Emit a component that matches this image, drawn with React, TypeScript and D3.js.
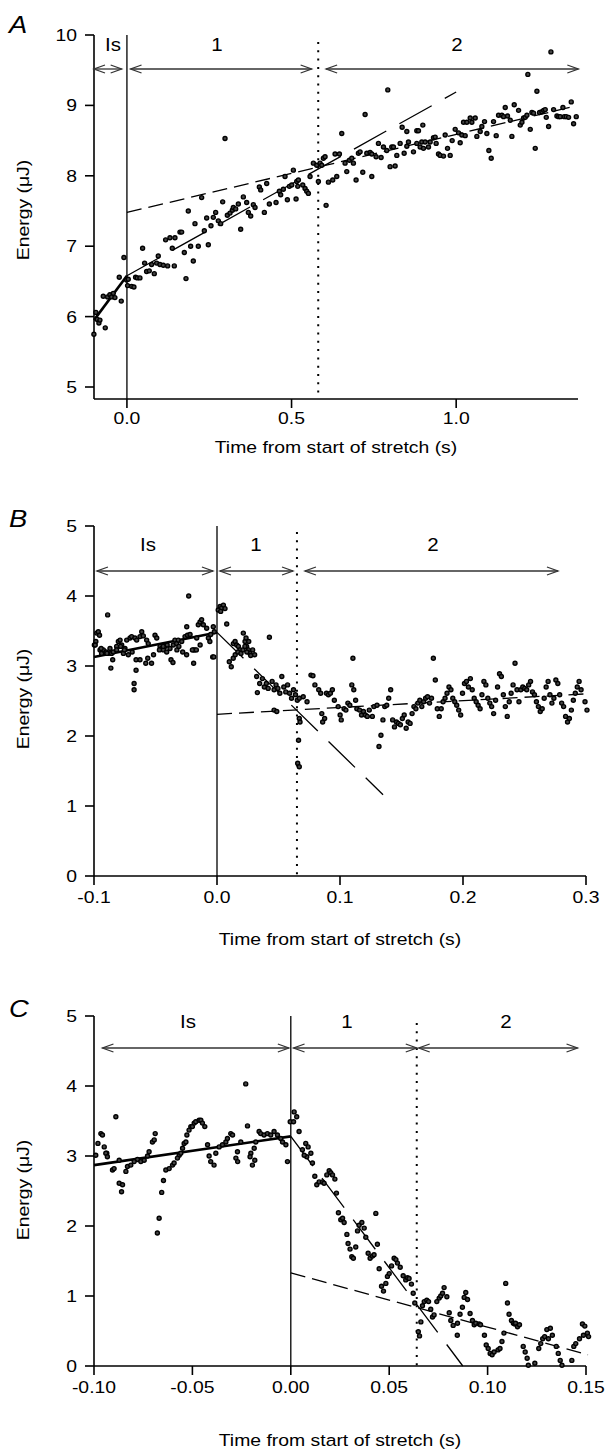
import React from "react";
import * as d3 from "d3";

type Pt = [number, number];

// ---------------- Panel A data (time s, energy µJ) ----------------
const A_POINTS: Pt[] = [
  [-0.1003,5.75],[-0.0942,6.06],[-0.0902,5.96],[-0.0851,5.91],[-0.082,5.95],[-0.0658,5.84],[-0.0719,6.29],
  [-0.0587,6.28],[-0.0517,6.31],[-0.0466,6.28],[-0.0415,6.33],[-0.0365,6.27],[-0.0233,6.56],[-0.0172,6.22],
  [-0.0091,6.84],[-0.001,6.52],[0.004,6.53],[0.002,6.44],[0.0142,6.43],[0.0213,6.42],[0.0263,6.56],[0.0314,6.55],
  [0.0395,6.55],[0.0476,6.97],[0.0537,6.76],[0.0598,6.64],[0.0679,6.65],[0.0831,6.61],[0.075,6.74],[0.0902,6.76],
  [0.1003,6.74],[0.1105,6.73],[0.1236,6.72],[0.0952,6.86],[0.1439,6.72],[0.1175,7.09],[0.1307,7.12],[0.1459,7.12],
  [0.1611,7.2],[0.1662,7.2],[0.1378,6.97],[0.1743,6.91],[0.1794,6.54],[0.1864,7.5],[0.1935,7.0],[0.2067,7.32],
  [0.2168,7.0],[0.2016,6.79],[0.227,7.69],[0.2351,7.22],[0.2422,7.4],[0.2472,7.02],[0.2553,7.29],[0.2624,7.41],
  [0.2695,7.48],[0.2776,7.36],[0.2847,7.32],[0.2908,7.63],[0.305,7.44],[0.3131,7.47],[0.3202,7.51],[0.3232,7.55],
  [0.3303,7.53],[0.3384,7.6],[0.3455,7.24],[0.3536,7.7],[0.3637,7.62],[0.3688,7.48],[0.3759,7.43],[0.384,7.59],
  [0.3891,7.55],[0.4022,7.84],[0.4063,7.8],[0.4174,7.48],[0.4245,7.89],[0.4326,7.6],[0.4529,7.62],[0.463,7.78],
  [0.467,7.73],[0.4751,7.81],[0.4873,7.66],[0.4934,7.85],[0.5005,7.87],[0.5137,7.67],[0.5188,7.85],[0.2979,8.53],
  [0.4802,7.99],[0.5055,8.08],[0.5157,7.92],[0.5208,7.94],[0.534,7.87],[0.541,7.82],[0.5461,7.78],[0.5512,7.75],
  [0.5562,7.99],[0.5663,8.18],[0.5765,8.15],[0.5866,8.18],[0.5967,8.25],[0.5917,8.15],[0.6018,8.27],[0.5815,7.92],
  [0.612,7.91],[0.6251,7.94],[0.6373,7.99],[0.6049,7.58],[0.6322,8.31],[0.6454,8.31],[0.6525,8.6],[0.6626,8.18],
  [0.6758,8.22],[0.6829,8.25],[0.6677,8.06],[0.6879,8.18],[0.696,7.94],[0.7163,8.05],[0.7437,7.99],[0.7031,8.32],
  [0.7082,8.34],[0.7285,8.32],[0.7386,8.33],[0.7437,8.31],[0.7234,8.87],[0.7568,8.27],[0.7639,8.46],[0.7791,8.41],
  [0.7892,8.36],[0.8044,8.41],[0.8095,8.41],[0.772,8.26],[0.7923,9.22],[0.7993,8.13],[0.8146,8.14],[0.8197,8.29],
  [0.8298,8.46],[0.842,8.32],[0.8501,8.42],[0.8551,8.48],[0.8703,8.34],[0.8804,8.46],[0.8906,8.41],[0.8956,8.48],
  [0.9007,8.39],[0.9058,8.48],[0.8359,8.69],[0.8501,8.63],[0.8804,8.64],[0.8855,8.64],[0.8987,8.72],[0.9159,8.41],
  [0.921,8.48],[0.9311,8.54],[0.9362,8.55],[0.9392,8.46],[0.9463,8.31],[0.9514,8.29],[0.9615,8.28],[0.9818,8.29],
  [0.9666,8.58],[0.9737,8.39],[0.9878,8.5],[0.997,8.66],[1.0071,8.61],[1.0122,8.47],[1.0172,8.58],[1.0274,8.57],
  [1.0223,8.76],[1.0324,8.76],[1.0426,8.82],[1.0476,8.76],[1.0578,8.82],[1.0628,8.56],[1.073,8.63],[1.078,8.7],
  [1.0861,8.77],[1.0932,8.6],[1.0993,8.36],[1.1064,8.25],[1.1135,8.77],[1.1216,8.57],[1.1287,8.86],[1.1388,8.86],
  [1.149,8.97],[1.1439,8.84],[1.156,8.85],[1.1642,8.79],[1.1692,8.56],[1.1763,9.01],[1.1895,8.93],[1.1946,8.72],
  [1.1997,8.76],[1.2047,8.82],[1.2098,8.83],[1.2148,8.86],[1.225,8.66],[1.23,8.9],[1.2351,8.89],[1.2401,8.39],
  [1.2533,8.9],[1.2604,8.91],[1.2655,8.93],[1.2705,8.94],[1.2736,8.83],[1.2807,8.7],[1.2959,8.94],[1.306,8.85],
  [1.3111,8.84],[1.3161,8.84],[1.3242,8.97],[1.3283,8.84],[1.3343,8.84],[1.3414,8.83],[1.3495,9.05],[1.3566,8.74],
  [1.3647,8.84],[1.2177,9.44],[1.2452,9.2],[1.2878,9.76],
];
const A_ISO_FIT: Pt[] = [[-0.1, 5.95], [0, 6.58]];
const A_PH1_FIT: Pt[] = [[0, 6.58], [1.0, 9.19]];
const A_PH2_FIT: Pt[] = [[0, 7.48], [1.362, 8.99]];
const A_X_TICKS = [0, 0.5, 1.0];
const A_X_LABELS = ["0.0", "0.5", "1.0"];
const A_Y_TICKS = [5, 6, 7, 8, 9, 10];
const A_PHASE_TIMES = [0, 0.581];
const A_ARROWS: Pt[] = [[-0.1, -0.016], [0.011, 0.561], [0.605, 1.371]];
const A_PHASE_NAMES = ["Is", "1", "2"];

// ---------------- Panel B data ----------------
const B_POINTS: Pt[] = [
  // isometric
  [-0.0997,3.30],[-0.0978,3.47],[-0.0965,3.49],[-0.0955,3.44],[-0.0985,3.35],[-0.0951,3.23],[-0.0938,3.18],
  [-0.0924,3.23],[-0.0902,3.20],[-0.0884,3.18],[-0.0870,3.25],[-0.0857,3.18],[-0.0843,3.20],[-0.0816,3.28],
  [-0.0802,3.35],[-0.0788,3.37],[-0.0775,3.30],[-0.0748,3.25],[-0.0761,3.18],[-0.0734,3.37],[-0.0707,3.40],
  [-0.0694,3.42],[-0.0667,3.40],[-0.0653,3.37],[-0.0626,3.42],[-0.0612,3.49],[-0.0599,3.43],[-0.0572,3.37],
  [-0.0559,3.32],[-0.0504,3.44],[-0.0490,3.40],[-0.0463,3.28],[-0.0450,3.25],[-0.0436,3.23],[-0.0423,3.28],
  [-0.0409,3.20],[-0.0382,3.25],[-0.0355,3.30],[-0.0342,3.37],[-0.0328,3.32],[-0.0315,3.37],[-0.0287,3.35],
  [-0.0260,3.42],[-0.0246,3.56],[-0.0240,3.44],[-0.0219,3.45],[-0.0192,3.23],[-0.0179,3.23],[-0.0165,3.40],
  [-0.0152,3.59],[-0.0138,3.63],[-0.0125,3.66],[-0.0111,3.59],[-0.0084,3.54],[-0.0070,3.40],[-0.0051,3.45],
  [-0.0030,3.56],[-0.0022,3.49],[-0.0889,3.73],[-0.0230,4.0],[-0.0035,3.13],
  [-0.099,3.30],[-0.0942,3.25],[-0.0895,3.18],[-0.0848,3.09],[-0.0863,2.97],[-0.0816,3.23],[-0.0784,3.28],
  [-0.0753,3.23],[-0.0721,3.16],[-0.069,3.20],[-0.0658,3.09],[-0.0658,2.94],[-0.0674,2.75],[-0.0674,2.66],
  [-0.0626,3.09],[-0.0579,3.04],[-0.0563,3.11],[-0.0532,3.04],[-0.0516,3.16],[-0.0468,3.23],[-0.0437,3.28],
  [-0.0405,3.30],[-0.0374,3.09],[-0.0358,3.05],[-0.0326,3.23],[-0.0310,3.28],[-0.0279,3.20],[-0.0247,3.16],
  [-0.0200,3.23],[-0.019,3.04],[-0.0168,3.23],[-0.0137,3.30],[-0.0058,3.35],[-0.0026,3.13],
  // phase 1
  [0.0010,3.80],[0.0025,3.85],[0.0038,3.83],[0.0052,3.87],[0.0065,3.82],[0.0030,3.78],[0.0079,3.60],
  [0.0133,3.32],[0.0147,3.35],[0.016,3.30],[0.0174,3.28],[0.0187,3.23],[0.0214,3.47],[0.0228,3.35],[0.0236,3.40],
  [0.0241,3.28],[0.0255,3.23],[0.0268,3.18],[0.0274,3.15],[0.0426,3.41],
  [0.0100,3.06],[0.0116,2.99],[0.0132,3.11],[0.0148,3.16],[0.017,3.20],[0.0195,3.18],[0.0211,3.23],[0.0227,3.28],
  [0.0243,3.20],[0.0258,3.35],[0.029,3.23],[0.0306,3.16],[0.0322,2.85],[0.0328,2.62],[0.0347,2.75],[0.0369,2.82],
  [0.0385,2.70],[0.0401,2.75],[0.0416,2.68],[0.0448,2.78],[0.0464,2.66],[0.048,2.73],[0.0495,2.68],[0.0511,2.61],
  [0.0527,2.85],[0.0543,2.70],[0.0559,2.63],[0.0574,2.73],[0.059,2.61],[0.0606,2.54],[0.0622,2.66],[0.0638,2.59],
  [0.0653,2.51],[0.0669,2.54],[0.0464,2.37],[0.0486,2.35],[0.0669,2.25],[0.0675,2.20],[0.0663,1.94],[0.0656,1.61],
  [0.0669,1.56],
  // phase 2
  [0.0701,2.56],[0.0732,2.49],[0.0764,2.87],[0.0780,2.86],[0.0796,2.73],[0.0827,2.66],[0.0843,2.61],[0.0852,2.32],
  [0.0859,2.20],[0.0875,2.25],[0.0890,2.61],[0.0906,2.59],[0.0922,2.61],[0.0938,2.66],[0.0954,2.51],[0.0985,2.42],
  [0.1001,2.30],[0.1010,2.23],[0.1033,2.39],[0.1048,2.37],[0.1064,2.47],[0.1080,2.44],[0.1096,2.73],[0.1105,3.11],
  [0.1112,2.66],[0.1127,2.51],[0.1137,2.39],[0.1159,2.37],[0.1175,2.30],[0.1191,2.35],[0.1206,2.30],[0.1222,2.28],
  [0.1238,2.37],[0.1263,2.28],[0.1276,2.42],[0.1301,2.44],[0.1317,1.85],[0.1333,2.01],[0.1349,2.23],[0.1364,2.42],
  [0.1380,2.44],[0.1396,2.54],[0.1412,2.66],[0.1428,2.23],[0.1443,2.13],[0.1459,2.20],[0.1475,2.18],[0.1491,2.16],
  [0.1507,2.25],[0.1522,2.30],[0.1538,2.11],[0.1554,2.20],[0.1570,2.18],[0.1586,2.32],[0.1601,2.42],[0.1617,2.39],
  [0.1633,2.47],[0.1649,2.51],[0.1665,2.42],[0.1680,2.49],[0.1696,2.54],[0.1712,2.56],[0.1728,2.47],[0.1744,2.54],
  [0.1759,3.11],[0.1775,2.80],[0.1791,2.39],[0.1807,2.28],[0.1823,2.39],[0.1838,2.49],[0.1854,2.54],[0.1870,2.61],
  [0.1886,2.70],[0.1902,2.66],[0.1917,2.54],[0.1933,2.49],[0.1949,2.44],[0.1965,2.37],[0.1981,2.30],[0.1996,2.61],
  [0.2012,2.75],[0.2028,2.78],[0.2044,2.70],[0.2060,2.82],[0.2075,2.66],[0.2091,2.54],[0.2107,2.49],[0.2123,2.44],
  [0.2139,2.39],[0.2154,2.59],[0.2170,2.78],[0.2186,2.73],[0.2202,2.54],[0.2218,2.47],[0.2233,2.42],[0.2249,2.32],
  [0.2265,2.51],[0.2281,2.70],[0.2297,2.89],[0.2312,2.85],[0.2328,2.59],[0.2344,2.42],[0.2360,2.28],[0.2376,2.49],
  [0.2391,2.61],[0.2407,2.73],[0.2423,3.04],[0.2439,2.66],[0.2455,2.49],[0.2470,2.66],[0.2486,2.70],[0.2502,2.68],
  [0.2518,2.66],[0.2534,2.73],[0.2549,2.78],[0.2565,2.63],[0.2581,2.59],[0.2597,2.49],[0.2613,2.42],[0.2628,2.35],
  [0.2644,2.39],[0.2660,2.54],[0.2676,2.70],[0.2692,2.78],[0.2707,2.59],[0.2723,2.47],[0.2739,2.54],[0.2755,2.80],
  [0.2771,2.75],[0.2786,2.59],[0.2802,2.47],[0.2818,2.42],[0.2834,2.28],[0.2850,2.20],[0.2865,2.25],[0.2881,2.37],
  [0.2897,2.51],[0.2913,2.61],[0.2929,2.70],[0.2944,2.78],[0.2960,2.66],[0.2992,2.49],[0.3008,2.37],
];
const B_ISO_FIT: Pt[] = [[-0.1, 3.13], [0, 3.48]];
const B_PH1_FIT: Pt[] = [[0, 3.48], [0.135, 1.16]];
const B_PH2_FIT: Pt[] = [[0, 2.31], [0.298, 2.6]];
const B_X_TICKS = [-0.1, 0, 0.1, 0.2, 0.3];
const B_X_LABELS = ["-0.1", "0.0", "0.1", "0.2", "0.3"];
const B_Y_TICKS = [0, 1, 2, 3, 4, 5];
const B_PHASE_TIMES = [0, 0.065];
const B_ARROWS: Pt[] = [[-0.0976, -0.0033], [0.0024, 0.0618], [0.0715, 0.2772]];
const B_PHASE_NAMES = ["Is", "1", "2"];

// ---------------- Panel C data ----------------
const C_POINTS: Pt[] = [
  // isometric
  [-0.0991,3.01],[-0.098,3.18],[-0.0965,3.32],[-0.0957,3.30],[-0.0948,3.13],[-0.0935,3.04],[-0.0889,3.56],
  [-0.0872,2.94],[-0.0779,2.95],[-0.0728,3.0],[-0.072,3.06],[-0.0703,3.20],[-0.0694,3.23],[-0.0689,3.32],
  [-0.0567,3.01],[-0.0550,3.11],[-0.0542,3.18],[-0.0533,3.20],[-0.0528,3.30],[-0.0517,3.37],[-0.0508,3.42],
  [-0.05,3.42],[-0.0491,3.47],[-0.0483,3.49],[-0.0466,3.51],[-0.0457,3.51],[-0.0449,3.47],[-0.0437,3.42],
  [-0.0423,3.16],[-0.0415,3.0],[-0.0381,3.04],[-0.0364,3.13],[-0.0347,3.16],[-0.033,3.20],[-0.0322,3.25],
  [-0.0305,3.32],[-0.0296,3.30],[-0.0279,2.97],[-0.0271,3.06],[-0.0254,3.20],[-0.0229,4.03],[-0.0220,3.43],
  [-0.0203,3.04],[-0.0186,3.11],[-0.0178,3.20],[-0.0161,3.35],[-0.0153,3.32],[-0.0136,3.30],[-0.0119,3.32],
  [-0.0102,3.30],[-0.0085,3.35],[-0.0068,3.30],[-0.0051,3.25],[-0.0042,3.20],[-0.0025,3.16],[-0.0003,3.49],
  [-0.094,3.04],[-0.0932,2.99],[-0.0906,2.80],[-0.0898,2.82],[-0.0872,2.61],[-0.0855,2.59],[-0.086,2.49],
  [-0.0838,2.78],[-0.083,2.85],[-0.0813,2.87],[-0.0796,2.92],[-0.0762,2.92],[-0.0745,2.94],[-0.0678,1.90],
  [-0.0669,2.11],[-0.0656,2.48],[-0.0647,2.65],[-0.0635,2.80],[-0.0618,2.82],[-0.0601,2.87],[-0.0593,2.90],
  [-0.0576,2.97],[-0.0559,3.04],[-0.0407,2.92],[-0.039,2.87],[-0.027,2.92],[-0.0207,2.99],[-0.0195,2.87],
  [-0.0183,2.94],[-0.0017,2.92],
  // phase 1
  [0.0017,3.63],[0.0030,3.56],[0.0014,3.49],[0.0042,3.35],[0.0076,3.18],[0.0088,3.13],[0.0059,3.09],[0.0102,3.04],
  [0.0081,2.99],[0.0068,3.01],[0.011,2.90],[0.0122,2.71],[0.0132,2.59],[0.0144,2.63],[0.0161,2.63],[0.0169,2.61],
  [0.0183,2.73],[0.0195,2.79],[0.0203,2.76],[0.0212,2.73],[0.0224,2.67],[0.0232,2.47],[0.0242,2.19],[0.0254,2.09],
  [0.0263,2.11],[0.0271,2.05],[0.0285,1.88],[0.0291,1.75],[0.0301,1.67],[0.031,1.56],[0.0318,1.54],[0.033,1.70],
  [0.0339,1.93],[0.0347,2.01],[0.0361,2.05],[0.0373,1.97],[0.0381,1.84],[0.0393,1.61],[0.0403,1.54],[0.0415,1.57],
  [0.0423,1.59],[0.0432,2.18],[0.044,1.74],[0.0449,1.39],[0.0461,1.14],[0.0471,1.07],[0.0483,1.18],[0.0491,1.28],
  [0.05,1.32],[0.0512,1.43],[0.0525,1.54],[0.0534,1.52],[0.0542,1.47],[0.0556,1.41],[0.0571,1.29],[0.0584,1.23],
  [0.0593,1.26],[0.0601,1.25],[0.0613,1.17],[0.0622,1.04],[0.063,0.90],
  // phase 2
  [0.0648,0.49],[0.0654,0.43],[0.0661,0.63],[0.0669,0.86],[0.0678,0.92],[0.0691,0.94],[0.07,0.92],[0.0711,0.81],
  [0.072,0.70],[0.0728,0.73],[0.0742,0.92],[0.0754,0.97],[0.0762,1.0],[0.0771,1.04],[0.0779,1.12],[0.0793,0.99],
  [0.0805,0.76],[0.0813,0.65],[0.0825,0.58],[0.0847,0.61],[0.086,0.74],[0.0872,0.84],[0.0881,0.98],[0.0889,1.05],
  [0.0898,0.95],[0.0911,0.75],[0.0923,0.65],[0.0932,0.59],[0.094,0.61],[0.0957,0.60],[0.0846,0.44],[0.0964,0.59],
  [0.0984,0.44],[0.0993,0.30],[0.1003,0.25],[0.1013,0.18],[0.1023,0.16],[0.1033,0.20],[0.1053,0.23],[0.1063,0.25],
  [0.1073,0.35],[0.1083,0.47],[0.1092,1.18],[0.1101,0.90],[0.1109,0.74],[0.1121,0.65],[0.1131,0.61],[0.1138,0.60],
  [0.1142,0.61],[0.1152,0.56],[0.1162,0.59],[0.1181,0.28],[0.1191,0.20],[0.1201,0.11],[0.1207,0.01],[0.1240,0.04],
  [0.1260,0.25],[0.1270,0.32],[0.128,0.39],[0.1290,0.42],[0.1301,0.52],[0.1309,0.39],[0.1319,0.54],[0.1329,0.44],
  [0.1349,0.28],[0.1359,0.18],[0.1369,0.08],[0.1378,0.01],[0.1428,0.08],[0.1438,0.28],[0.1448,0.32],[0.1467,0.39],
  [0.1482,0.60],[0.1487,0.44],[0.1494,0.57],[0.1507,0.47],[0.1513,0.42],
];
const C_ISO_FIT: Pt[] = [[-0.1, 2.87], [0, 3.28]];
const C_PH1_FIT: Pt[] = [[0, 3.28], [0.0874, 0]];
const C_PH2_FIT: Pt[] = [[0, 1.33], [0.151, 0.16]];
const C_X_TICKS = [-0.1, -0.05, 0, 0.05, 0.1, 0.15];
const C_X_LABELS = ["-0.10", "-0.05", "0.00", "0.05", "0.10", "0.15"];
const C_Y_TICKS = [0, 1, 2, 3, 4, 5];
const C_PHASE_TIMES = [0, 0.064];
const C_ARROWS: Pt[] = [[-0.0957, -0.001], [0.0014, 0.064], [0.065, 0.1457]];
const C_PHASE_NAMES = ["Is", "1", "2"];

const X_TITLE = "Time from start of stretch (s)";
const Y_TITLE = "Energy (\u03bcJ)";
const FONT = "'Liberation Sans', Arial, Helvetica, sans-serif";
const SX = 1.14; // horizontal stretch of the lettering

interface PanelCfg {
  letter: string;
  letterY: number;
  xDomain: [number, number];
  xRange: [number, number];
  yDomain: [number, number];
  yRange: [number, number];
  axisY: number;
  xTicks: number[];
  xLabels: string[];
  yTicks: number[];
  points: Pt[];
  iso: Pt[];
  ph1: Pt[];
  ph2: Pt[];
  phaseTimes: number[];
  arrows: Pt[];
  names: string[];
  nameX: number[];
  nameY: number;
  arrowY: number;
  dotTop: number;
  tickLabelY: number;
  titleY: number;
  yTitleY: number;
}

const PANELS: PanelCfg[] = [
  {
    letter: "A", letterY: 33,
    xDomain: [-0.1, 1.37], xRange: [94, 578],
    yDomain: [5, 10], yRange: [387, 35], axisY: 399,
    xTicks: A_X_TICKS, xLabels: A_X_LABELS, yTicks: A_Y_TICKS,
    points: A_POINTS, iso: A_ISO_FIT, ph1: A_PH1_FIT, ph2: A_PH2_FIT,
    phaseTimes: A_PHASE_TIMES, arrows: A_ARROWS, names: A_PHASE_NAMES,
    nameX: [113, 217, 457], nameY: 51, arrowY: 69, dotTop: 42,
    tickLabelY: 424, titleY: 453, yTitleY: 210,
  },
  {
    letter: "B", letterY: 527,
    xDomain: [-0.1, 0.3], xRange: [94, 586],
    yDomain: [0, 5], yRange: [876, 526], axisY: 876,
    xTicks: B_X_TICKS, xLabels: B_X_LABELS, yTicks: B_Y_TICKS,
    points: B_POINTS, iso: B_ISO_FIT, ph1: B_PH1_FIT, ph2: B_PH2_FIT,
    phaseTimes: B_PHASE_TIMES, arrows: B_ARROWS, names: B_PHASE_NAMES,
    nameX: [148, 256, 433], nameY: 551, arrowY: 571, dotTop: 532,
    tickLabelY: 903, titleY: 945, yTitleY: 699,
  },
  {
    letter: "C", letterY: 1017,
    xDomain: [-0.1, 0.15], xRange: [94, 586],
    yDomain: [0, 5], yRange: [1366, 1016], axisY: 1366,
    xTicks: C_X_TICKS, xLabels: C_X_LABELS, yTicks: C_Y_TICKS,
    points: C_POINTS, iso: C_ISO_FIT, ph1: C_PH1_FIT, ph2: C_PH2_FIT,
    phaseTimes: C_PHASE_TIMES, arrows: C_ARROWS, names: C_PHASE_NAMES,
    nameX: [188, 347, 506], nameY: 1028, arrowY: 1048, dotTop: 1023,
    tickLabelY: 1393, titleY: 1446, yTitleY: 1190,
  },
];

function T({ x, y, anchor, size, rot, children, italic }: {
  x: number; y: number; anchor?: string; size: number; rot?: boolean; italic?: boolean; children: React.ReactNode;
}) {
  return (
    <text
      transform={`translate(${x},${y})${rot ? " rotate(-90)" : ""} scale(${SX},1)`}
      textAnchor={anchor || "start"}
      fontSize={size}
      fontStyle={italic ? "italic" : "normal"}
      fontFamily={FONT}
      fill="#000"
    >{children}</text>
  );
}

function Panel({ p }: { p: PanelCfg }) {
  const x = d3.scaleLinear().domain(p.xDomain).range(p.xRange);
  const y = d3.scaleLinear().domain(p.yDomain).range(p.yRange);
  const line = d3.line<Pt>().x((d) => x(d[0])).y((d) => y(d[1]));
  const top = y(p.yDomain[1]);
  const x0 = p.xRange[0];
  const x1 = p.xRange[1];
  const head = (xa: number, ya: number, dir: number) =>
    `M${xa + dir * 11},${ya - 4}L${xa},${ya}L${xa + dir * 11},${ya + 4}`;
  return (
    <g>
      <T x={9} y={p.letterY} size={24} italic>{p.letter}</T>
      {/* axes */}
      <line x1={x0} x2={x0} y1={top} y2={p.axisY} stroke="#000" strokeWidth={1.6} />
      <line x1={x0} x2={x1} y1={p.axisY} y2={p.axisY} stroke="#000" strokeWidth={1.6} />
      {p.yTicks.map((t) => (
        <g key={"y" + t}>
          <line x1={x0 - 9} x2={x0} y1={y(t)} y2={y(t)} stroke="#000" strokeWidth={1.6} />
          <T x={77} y={y(t) + 6} anchor="end" size={17}>{t}</T>
        </g>
      ))}
      {p.xTicks.map((t, i) => (
        <g key={"x" + t}>
          <line x1={x(t)} x2={x(t)} y1={p.axisY} y2={p.axisY + 9} stroke="#000" strokeWidth={1.6} />
          <T x={x(t)} y={p.tickLabelY} anchor="middle" size={17}>{p.xLabels[i]}</T>
        </g>
      ))}
      <T x={(x0 + x1) / 2} y={p.titleY} anchor="middle" size={17}>{X_TITLE}</T>
      <T x={29} y={p.yTitleY} anchor="middle" size={17} rot>{Y_TITLE}</T>
      {/* phase boundaries */}
      <line x1={x(p.phaseTimes[0])} x2={x(p.phaseTimes[0])} y1={top} y2={p.axisY} stroke="#000" strokeWidth={1.3} />
      <line x1={x(p.phaseTimes[1])} x2={x(p.phaseTimes[1])} y1={p.dotTop} y2={p.axisY}
        stroke="#000" strokeWidth={2} strokeDasharray="2 6.3" />
      {/* arrows */}
      {p.arrows.map((a, i) => {
        const xa = x(a[0]);
        const xb = x(a[1]);
        return (
          <g key={"a" + i} stroke="#333" strokeWidth={1.3} fill="none">
            <line x1={xa} x2={xb} y1={p.arrowY} y2={p.arrowY} />
            <path d={head(xa, p.arrowY, 1)} />
            <path d={head(xb, p.arrowY, -1)} />
          </g>
        );
      })}
      {p.names.map((n, i) => (
        <T key={"n" + i} x={p.nameX[i]} y={p.nameY} anchor="middle" size={18}>{n}</T>
      ))}
      {/* fits */}
      <path d={line(p.iso) || ""} stroke="#000" strokeWidth={2.6} fill="none" />
      <path d={line(p.ph1) || ""} stroke="#000" strokeWidth={1.3} fill="none" strokeDasharray="37 15" />
      <path d={line(p.ph2) || ""} stroke="#000" strokeWidth={1.3} fill="none" strokeDasharray="15 7" />
      {/* points */}
      {p.points.map((d, i) => (
        <circle key={i} cx={x(d[0])} cy={y(d[1])} r={2} fill="#444" stroke="#000" strokeWidth={1.4} />
      ))}
    </g>
  );
}

export default function App() {
  return (
    <svg width={606} height={1451} style={{ position: "absolute", left: 0, top: 0, background: "#fff" }}>
      <rect width={606} height={1451} fill="#fff" />
      {PANELS.map((p) => (
        <Panel key={p.letter} p={p} />
      ))}
    </svg>
  );
}
